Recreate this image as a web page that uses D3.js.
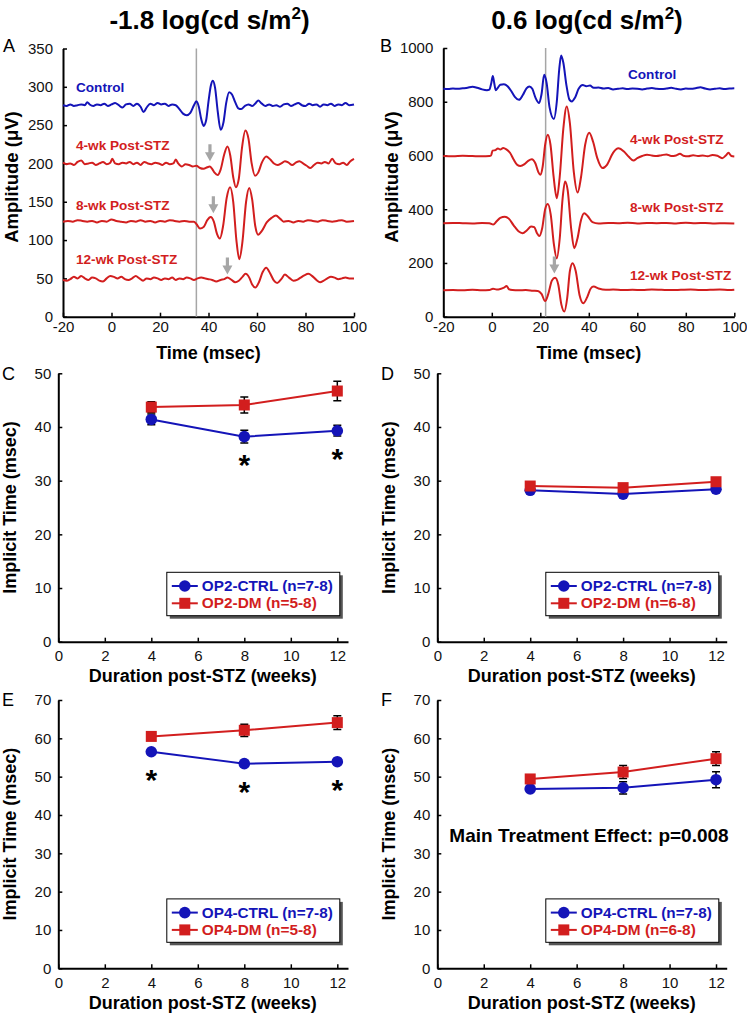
<!DOCTYPE html>
<html>
<head>
<meta charset="UTF-8">
<title>Oscillatory potentials</title>
<style>
  body { margin: 0; background: #fff; }
  svg { display: block; font-family: Arial, "Liberation Sans", sans-serif; }
  .axis .domain { stroke: #000; stroke-width: 2; }
  .axis .tick line { stroke: #000; stroke-width: 1.5; }
  .axis .tick text { font-size: 15px; fill: #111; }
</style>
</head>
<body>
<script src="https://d3js.org/d3.v7.min.js"></script>
<svg></svg>
<script>
// ---- waveform traces, [time msec, amplitude uV] ----
const dimControl = [[-20,276],[-18.5,275],[-17,277],[-15.5,275],[-14,276],[-12.5,277],[-11,276],[-10,280],[-9,277],[-7.5,275],[-6,277],[-4.5,276],[-3,278],[-1.5,275],[0,277],[1.5,279],[3,276],[4.5,273],[6,277],[7.5,278],[9,275],[10.5,278],[12,274],[13.2,267],[14.5,273],[16,278],[17.5,276],[19,279],[20.5,277],[22,278],[23.5,275],[25,277],[26.5,276],[28,271],[29.5,265],[31,263],[32.5,266],[34,276],[35,281],[36,274],[37,258],[38,249],[39,256],[40,281],[41,302],[41.8,308],[42.7,299],[43.8,268],[45,244],[46.2,254],[47.3,279],[48.5,293],[49.7,290],[51,280],[52.3,272],[53.5,271],[55,275],[56.5,277],[58,275],[59.5,279],[60.5,282],[62,278],[63.5,275],[65,277],[66.5,275],[68,276],[69.5,274],[71,277],[72.5,278],[74,275],[75.5,277],[77,279],[78.5,276],[80,275],[81.5,278],[83,276],[84.5,277],[86,274],[87.5,277],[89,276],[90.5,278],[92,275],[93.5,277],[95,276],[96.5,279],[98,276],[100,277]];
const dim4wk = [[-20,201],[-18.5,199],[-17,200],[-15.5,198],[-14,202],[-12.5,204],[-11,199],[-9.5,200],[-8,201],[-6.5,198],[-5,200],[-3.5,202],[-2,199],[-0.5,201],[0.3,206],[1.5,200],[3,199],[4.5,201],[6,200],[7.5,202],[9,199],[10.5,201],[12,198],[13.5,202],[15,200],[16.5,199],[18,201],[19.5,200],[21,198],[22.5,201],[24,199],[25.5,200],[26.5,205],[27.5,200],[29,196],[30.5,199],[32,198],[33.5,196],[35,197],[36.5,194],[38,193],[39.5,195],[40.5,196],[41.5,193],[42.5,188],[43.8,185],[45,192],[46.5,212],[47.8,222],[49,210],[50.2,182],[51.3,169],[52.5,180],[53.8,220],[55.2,243],[56.5,232],[57.8,200],[59.2,184],[60.5,188],[62,201],[63.8,209],[65.5,205],[67,200],[68.5,198],[70,200],[71.5,203],[73,201],[74.5,198],[76,201],[77.5,203],[79,200],[80.5,197],[82,194],[83.5,198],[85,201],[86.5,200],[88,202],[89.5,200],[91,206],[92.5,200],[94,199],[95.5,201],[97,198],[98.5,203],[100,206]];
const dim8wk = [[-20,124],[-18,125],[-16,124],[-14,126],[-12,125],[-10,124],[-8,125],[-6,123],[-4,125],[-2,124],[0,127],[2,125],[4,124],[6,123],[8,125],[10,124],[12,126],[14,124],[16,125],[18,123],[20,125],[22,124],[24,126],[26,125],[28,124],[30,125],[32,124],[34,124],[35,121],[36.5,115],[38,117],[39.5,126],[40.9,130],[42.2,124],[43.5,108],[44.7,102],[46,118],[47.5,155],[48.9,169],[50.2,150],[51.5,100],[52.7,75],[54,98],[55.5,150],[56.8,168],[58,153],[59.3,118],[60.5,107],[62,112],[64,123],[66,129],[67.8,132],[69.5,128],[71,124],[73,125],[75,123],[77,125],[79,124],[81,126],[83,125],[85,124],[87,126],[89,125],[91,124],[93,125],[95,126],[97,124],[100,125]];
const dim12wk = [[-20,48],[-18.5,47],[-17,49],[-15.5,52],[-14,50],[-12.5,53],[-11,50],[-9.5,48],[-8,51],[-6.5,50],[-5,47],[-3.5,46],[-2,50],[-0.5,53],[1,52],[2.5,50],[4,52],[5.5,49],[7,48],[8.5,50],[10,53],[11.5,50],[13,47],[14.5,50],[16,49],[17.5,51],[19,50],[20.5,48],[22,50],[23.5,49],[25,51],[26.5,48],[28,50],[29.5,49],[31,51],[32.5,50],[34,48],[35.5,50],[37,51],[38.5,50],[40,49],[41.5,48],[43.2,46],[45,48],[46.5,49],[47.8,51],[49.5,48],[51,45],[52.5,47],[54,52],[55.3,56],[56.8,51],[58,42],[59.3,38],[60.8,45],[62.3,58],[63.8,64],[65.5,56],[67,47],[68.3,44],[70,49],[71.5,55],[73.2,51],[75,47],[76.5,48],[78,51],[79.5,54],[81.2,56],[82.8,53],[84.5,48],[86,45],[87.5,47],[89,50],[90.5,52],[92,51],[93.5,49],[95,50],[96.5,51],[98,50],[100,50]];

const brightControl = [[-20,848],[-18,847],[-16,849],[-14,848],[-12,850],[-10,852],[-8,856],[-6,852],[-4,846],[-2,843],[-1,845],[-0.2,870],[0.4,896],[1.0,870],[1.6,843],[2.5,852],[3.5,863],[5,865],[6.5,858],[8,840],[9.5,818],[11.2,807],[12.8,825],[14.3,850],[15.5,857],[16.7,848],[18,815],[19.5,795],[20.5,828],[21.6,900],[22.6,870],[23.8,780],[25.6,736],[26.8,800],[27.8,920],[28.6,972],[29.5,945],[30.8,860],[32,808],[33,801],[34.3,815],[35.8,848],[37.5,862],[39,858],[40.5,860],[42,852],[44,853],[46,849],[48,851],[50,846],[52,848],[54,850],[56,847],[58,849],[60,848],[62,846],[64,849],[66,851],[68,848],[70,847],[72,849],[74,852],[76,848],[78,846],[80,849],[82,848],[84,850],[86,854],[88,849],[90,846],[92,848],[94,850],[96,847],[98,849],[100,850]];
const bright4wk = [[-20,598],[-16,597],[-12,599],[-8,598],[-4,597],[-1,598],[-0.3,600],[0.3,618],[1.5,620],[2.5,626],[3.5,622],[4.7,628],[6,623],[7.5,610],[9,585],[10.5,565],[11.8,561],[13.5,568],[15,580],[16.5,586],[18,570],[19.2,538],[20,528],[21,560],[22,640],[23.1,677],[24.2,640],[25.5,520],[26.8,441],[28,520],[29.5,700],[30.9,782],[32.2,720],[33.8,540],[35.4,462],[36.8,520],[38.5,640],[40.2,685],[41.8,650],[43.5,590],[45.7,553],[47.5,565],[50,610],[52.2,627],[54.5,615],[56.5,595],[58.4,581],[60,590],[62,598],[64,603],[66,600],[68,598],[70,601],[72,604],[74,598],[76,600],[77.6,606],[79,599],[81,597],[83,601],[85,598],[87,600],[89,597],[91,602],[93,599],[95,590],[96.5,600],[97.6,610],[98.8,598],[100,596]];
const bright8wk = [[-20,348],[-16,349],[-12,348],[-8,347],[-4,349],[-1,348],[0.6,343],[2,355],[3.5,368],[5.4,372],[7,365],[9,340],[11,318],[12.7,311],[14.5,322],[16.2,336],[17.5,333],[18.7,310],[19.6,300],[20.8,330],[22,400],[23.1,419],[24.3,380],[25.6,270],[26.8,217],[28,290],[29.2,440],[30.2,503],[31.3,470],[32.7,330],[34,255],[35.3,290],[36.8,360],[38.1,385],[39.5,375],[41.5,352],[44,347],[48,349],[52,348],[56,350],[60,347],[64,349],[68,348],[72,349],[76,347],[80,350],[84,348],[88,349],[92,347],[96,348],[100,347]];
const bright12wk = [[-20,98],[-16,99],[-12,98],[-8,100],[-4,98],[-1,99],[0.5,104],[2,101],[3.5,103],[5,108],[6.1,114],[7,103],[8.5,99],[11,98],[14,99],[17,97],[19,96],[20.5,85],[22,58],[23.3,85],[24.8,135],[26.1,145],[27.4,120],[28.7,45],[29.9,19],[31.1,70],[32.2,170],[33.3,199],[34.6,170],[36.2,80],[37.7,50],[39.3,72],[40.8,105],[42,112],[44,105],[47,100],[50,101],[54,99],[58,100],[62,99],[66,101],[70,100],[74,99],[78,100],[82,101],[86,99],[90,100],[94,101],[98,99],[100,100]];

const traceNames = ["Control", "4-wk Post-STZ", "8-wk Post-STZ", "12-wk Post-STZ"];
const flashTimeDim = 35, flashTimeBright = 22.2;
// grey arrows: [time, tip amplitude]
const arrowsDim = [[40.6, 203], [42, 135], [47.8, 55]];
const arrowsBright = [[25.8, 161]];

// ---- implicit times (msec), mean and SEM ----
const weeks = [4, 8, 12];
const op2CtrlDim = [41.4, 38.2, 39.3], op2CtrlDimErr = [1.0, 1.2, 1.0];
const op2DmDim = [43.7, 44.1, 46.7], op2DmDimErr = [1.0, 1.5, 1.8];
const op2CtrlBright = [28.2, 27.5, 28.4], op2CtrlBrightErr = [0.4, 0.4, 0.5];
const op2DmBright = [29.0, 28.7, 29.8], op2DmBrightErr = [0.5, 0.4, 0.5];
const op4CtrlDim = [56.5, 53.4, 53.9], op4CtrlDimErr = [0.5, 0.7, 0.6];
const op4DmDim = [60.5, 62.1, 64.1], op4DmDimErr = [0.6, 1.6, 1.8];
const op4CtrlBright = [46.8, 47.1, 49.2], op4CtrlBrightErr = [0.5, 1.6, 2.1];
const op4DmBright = [49.4, 51.2, 54.7], op4DmBrightErr = [0.6, 1.7, 1.8];
const starsC = [8, 12], starsE = [4, 8, 12];

const blue = "#1414b8", red = "#d21e1e", grey = "#a6a6a6";

const svg = d3.select("svg").attr("width", 747).attr("height", 1015);

function axes(x, y, xTicks, yTicks, xPad, yPad) {
    svg.append("g").attr("class", "axis")
        .attr("transform", "translate(0," + y.range()[0] + ")")
        .call(d3.axisBottom(x).tickValues(xTicks).tickFormat(d => String(d))
            .tickSize(-4).tickSizeOuter(0).tickPadding(xPad));
    svg.append("g").attr("class", "axis")
        .attr("transform", "translate(" + x.range()[0] + ",0)")
        .call(d3.axisLeft(y).tickValues(yTicks).tickFormat(d => String(d))
            .tickSize(-4).tickSizeOuter(0).tickPadding(yPad));
}

function label(txt, x, y, opts) {
    let t = svg.append("text").attr("x", x).attr("y", y).text(txt)
        .attr("font-size", opts.size).attr("font-weight", opts.bold ? "bold" : "normal")
        .attr("fill", opts.color || "#000").attr("text-anchor", opts.anchor || "start");
    if (opts.rotate) t.attr("transform", "rotate(-90," + x + "," + y + ")");
    if (opts.len) t.attr("textLength", opts.len).attr("lengthAdjust", "spacingAndGlyphs");
    return t;
}

function title(main, cx) {
    let t = svg.append("text").attr("x", cx).attr("y", 29).attr("text-anchor", "middle")
        .attr("font-size", 26).attr("font-weight", "bold");
    t.append("tspan").text(main);
    t.append("tspan").attr("font-size", 17).attr("dy", -10).text("2");
    t.append("tspan").attr("dy", 10).text(")");
}

// ---------- waveform panels ----------
function wavePanel(x, y, traces, flash, arrows, yTicks, labelPos, letter, letterX) {
    axes(x, y, d3.range(-20, 101, 20), yTicks, 5, 10);
    svg.append("line")
        .attr("x1", x(flash)).attr("x2", x(flash))
        .attr("y1", y.range()[0]).attr("y2", y.range()[1])
        .attr("stroke", grey).attr("stroke-width", 1.5);
    const line = d3.line().x(d => x(d[0])).y(d => y(d[1])).curve(d3.curveMonotoneX);
    traces.forEach((tr, i) => {
        svg.append("path").datum(tr).attr("d", line)
            .attr("fill", "none").attr("stroke", i === 0 ? blue : red)
            .attr("stroke-width", 2).attr("stroke-linejoin", "round");
        label(traceNames[i], labelPos[i][0], labelPos[i][1],
            {size: 13.6, bold: true, color: i === 0 ? blue : red});
    });
    arrows.forEach(a => {
        const ax = x(a[0]), ay = y(a[1]);
        svg.append("path")
            .attr("d", `M${ax - 1.6},${ay - 17}H${ax + 1.6}V${ay - 9}H${ax + 5}L${ax},${ay}L${ax - 5},${ay - 9}H${ax - 1.6}Z`)
            .attr("fill", grey);
    });
    label("Time (msec)", (x.range()[0] + x.range()[1]) / 2, 359, {size: 18, bold: true, anchor: "middle"});
    label(letter, letterX, 52, {size: 18});
}

const xA = d3.scaleLinear().domain([-20, 100]).range([63, 354]);
const yA = d3.scaleLinear().domain([0, 350]).range([316.7, 48.5]);
wavePanel(xA, yA, [dimControl, dim4wk, dim8wk, dim12wk], flashTimeDim, arrowsDim,
    d3.range(0, 351, 50), [[76, 91.5], [76, 150], [76, 210], [76, 263.5]], "A", 3);
label("Amplitude (\u03bcV)", 18, 177, {size: 18.5, bold: true, anchor: "middle", rotate: true});
title("-1.8 log(cd s/m", 209.5);

const xB = d3.scaleLinear().domain([-20, 100]).range([443.3, 734.3]);
const yB = d3.scaleLinear().domain([0, 1000]).range([316.7, 48]);
wavePanel(xB, yB, [brightControl, bright4wk, bright8wk, bright12wk], flashTimeBright, arrowsBright,
    d3.range(0, 1001, 200), [[628, 78.5], [630, 143.5], [630, 211.5], [630, 280]], "B", 380);
label("Amplitude (\u03bcV)", 398, 177, {size: 18.5, bold: true, anchor: "middle", rotate: true});
title("0.6 log(cd s/m", 587);

// ---------- implicit time panels ----------
function timePanel(x, y, yTicks, ctrl, ctrlErr, dm, dmErr, names, stars, letter, letterX, letterY, yTitleX) {
    axes(x, y, d3.range(0, 13, 2), yTicks, 9, 7);
    const line = d3.line().x((d, i) => x(weeks[i])).y(d => y(d));
    [[ctrl, blue], [dm, red]].forEach(([vals, col]) => {
        svg.append("path").datum(vals).attr("d", line)
            .attr("fill", "none").attr("stroke", col).attr("stroke-width", 2);
    });
    [[ctrl, ctrlErr], [dm, dmErr]].forEach(([vals, errs]) => {
        vals.forEach((v, i) => {
            const cx = x(weeks[i]), y0 = y(v - errs[i]), y1 = y(v + errs[i]);
            svg.append("path")
                .attr("d", `M${cx},${y0}V${y1}M${cx - 4},${y0}H${cx + 4}M${cx - 4},${y1}H${cx + 4}`)
                .attr("stroke", "#000").attr("stroke-width", 1.5).attr("fill", "none");
        });
    });
    ctrl.forEach((v, i) => svg.append("circle").attr("cx", x(weeks[i])).attr("cy", y(v)).attr("r", 5.8).attr("fill", blue));
    dm.forEach((v, i) => svg.append("rect").attr("x", x(weeks[i]) - 5.5).attr("y", y(v) - 5.5)
        .attr("width", 11).attr("height", 11).attr("fill", red));
    stars.forEach(w => {
        const i = weeks.indexOf(w);
        label("*", x(w), y(ctrl[i]) + 21 + 17, {size: 30, bold: true, anchor: "middle"});
    });

    // legend
    const lx = x.range()[0] + 108.5, ly = y.range()[0] - 69.4;
    svg.append("rect").attr("x", lx + 3).attr("y", ly + 3).attr("width", 173).attr("height", 43.4).attr("fill", "#555");
    svg.append("rect").attr("x", lx).attr("y", ly).attr("width", 173).attr("height", 43.4)
        .attr("fill", "#fff").attr("stroke", "#000").attr("stroke-width", 1);
    [[names[0], blue, "circle", 131], [names[1], red, "square", 115]].forEach(([nm, col, shape, len], k) => {
        const yy = ly + 13.7 + k * 17.3;
        svg.append("line").attr("x1", lx + 5).attr("x2", lx + 31).attr("y1", yy).attr("y2", yy)
            .attr("stroke", col).attr("stroke-width", 2);
        if (shape === "circle") svg.append("circle").attr("cx", lx + 18).attr("cy", yy).attr("r", 5.8).attr("fill", col);
        else svg.append("rect").attr("x", lx + 12.5).attr("y", yy - 5.5).attr("width", 11).attr("height", 11).attr("fill", col);
        label(nm, lx + 35, yy + 5, {size: 14, bold: true, color: col, len: len});
    });

    label("Duration post-STZ (weeks)", (x.range()[0] + x(12)) / 2 + 5, y.range()[0] + 40.5, {size: 18, bold: true, anchor: "middle"});
    label("Implicit Time (msec)", yTitleX, (y.range()[0] + y.range()[1]) / 2, {size: 18, bold: true, anchor: "middle", rotate: true});
    label(letter, letterX, letterY, {size: 18});
}

const xLeft = d3.scaleLinear().domain([0, 12.46]).range([58.3, 348]);
const xRight = d3.scaleLinear().domain([0, 12.46]).range([437.3, 726.7]);
const yOp2 = d3.scaleLinear().domain([0, 50]).range([641.7, 373.3]);
const yOp4 = d3.scaleLinear().domain([0, 70]).range([968.3, 700]);

timePanel(xLeft, yOp2, d3.range(0, 51, 10), op2CtrlDim, op2CtrlDimErr, op2DmDim, op2DmDimErr,
    ["OP2-CTRL (n=7-8)", "OP2-DM (n=5-8)"], starsC, "C", 2, 380, 16);
timePanel(xRight, yOp2, d3.range(0, 51, 10), op2CtrlBright, op2CtrlBrightErr, op2DmBright, op2DmBrightErr,
    ["OP2-CTRL (n=7-8)", "OP2-DM (n=6-8)"], [], "D", 381, 380, 395);
timePanel(xLeft, yOp4, d3.range(0, 71, 10), op4CtrlDim, op4CtrlDimErr, op4DmDim, op4DmDimErr,
    ["OP4-CTRL (n=7-8)", "OP4-DM (n=5-8)"], starsE, "E", 2, 706, 16);
timePanel(xRight, yOp4, d3.range(0, 71, 10), op4CtrlBright, op4CtrlBrightErr, op4DmBright, op4DmBrightErr,
    ["OP4-CTRL (n=7-8)", "OP4-DM (n=6-8)"], [], "F", 381, 706, 395);

label("Main Treatment Effect: p=0.008", 589, 841.5, {size: 19, bold: true, anchor: "middle"});
</script>
</body>
</html>
